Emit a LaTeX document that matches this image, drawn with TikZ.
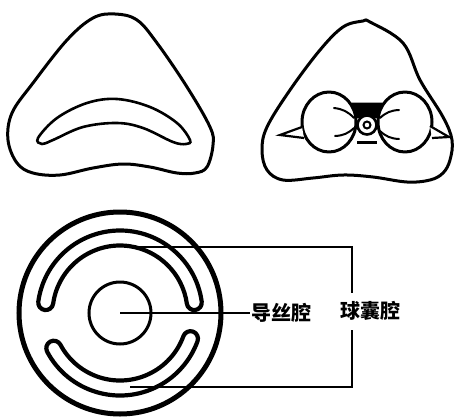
\documentclass[tikz,border=0pt]{standalone}
\usepackage{fontspec}
\newfontfamily\cjk{Noto Sans CJK SC}
\begin{document}
\begin{tikzpicture}[x=1pt,y=1pt,
  outline/.style={line width=3pt,line join=round},
  slot/.style={line width=4.2pt,line join=round},
  leader/.style={line width=1.8pt},
  whisker/.style={line width=2pt,line cap=round},
  label/.style={font=\cjk\bfseries\fontsize{20pt}{20pt}\selectfont,inner sep=1pt}]
\useasboundingbox (0,0) rectangle (457,416);

% left section: single crescent lumen
\draw[outline] plot[smooth cycle,tension=0.6] coordinates {
  (115,402) (137,396) (157,373) (187,329) (210,289) (213,271) (207,249)
  (195,243) (177,243) (150,249) (123,252) (93,248) (60,241) (33,243)
  (17,253) (8,276) (12,303) (33,333) (67,376) (93,398)};
\draw[line width=2.6pt] plot[smooth cycle,tension=0.6] coordinates {
  (38,278) (57,298) (87,313) (117,317) (150,309) (177,293) (190,276)
  (186,272) (173,274) (143,288) (117,293) (83,289) (53,276) (42,272)};

% right section: two lobes with central guide-wire ring
\draw[outline] plot[smooth cycle,tension=0.6] coordinates {
  (370,394) (403,373) (420,336) (443,299) (452,276) (450,256) (443,243)
  (430,236) (407,234) (373,239) (343,241) (313,238) (283,236) (267,246)
  (262,266) (267,289) (290,326) (320,366) (343,389) (363,395)};
\fill (351.5,313.5) -- (382.5,313.5) -- (384,298) -- (350,298) -- cycle;
\draw[outline,fill=white] (329,294) ellipse[x radius=27,y radius=30];
\draw[outline,fill=white] (405,294) ellipse[x radius=27,y radius=30];
\draw[line width=2.6pt,fill=white] (367,291) circle[radius=9.5];
\draw[line width=2pt] (367,291) circle[radius=3.5];
\draw[line width=3pt] (357,274) -- (377,274);
\draw[whisker] (334,308) to[bend left=20] (354,298);
\draw[whisker] (335,280) to[bend right=20] (354,288);
\draw[whisker] (380,298) to[bend left=20] (399,306);
\draw[whisker] (380,285) to[bend right=20] (399,277);
\draw[line width=2.2pt,line join=miter,fill=white] (302,289) -- (280,281) -- (304,278);
\draw[line width=2.2pt,line join=miter,fill=white] (430,290) -- (449,279) -- (432,278);

% bottom section: cross-section with two balloon lumens
\begin{scope}[shift={(120,103)}]
  \coordinate (c) at (0,0);
  \draw[line width=5pt] (c) circle[radius=101];
  \draw[line width=3pt] (c) circle[radius=31];
  \draw[slot] (8:82.5) arc[start angle=8,end angle=172,radius=82.5]
    arc[start angle=172,end angle=352,radius=7.5]
    arc[start angle=172,end angle=8,radius=67.5]
    arc[start angle=188,end angle=368,radius=7.5] -- cycle;
  \draw[slot] (-152:82.5) arc[start angle=-152,end angle=-20,radius=82.5]
    arc[start angle=-20,end angle=160,radius=7.5]
    arc[start angle=-20,end angle=-152,radius=67.5]
    arc[start angle=28,end angle=208,radius=7.5] -- cycle;
\end{scope}

% labels and leader lines
\node[label] (gw) at (281,103) {导丝腔};
\node[label] (bl) at (370,105) {球囊腔};
\coordinate (top) at (133,169);
\coordinate (bot) at (130,29);
\coordinate (tr) at (352,169);
\coordinate (br) at (352,29);
\draw[leader] (c) -- (gw.west);
\draw[leader] (top) -- (tr) -- (352,123);
\draw[leader] (bot) -- (br) -- (352,86);
\end{tikzpicture}
\end{document}
